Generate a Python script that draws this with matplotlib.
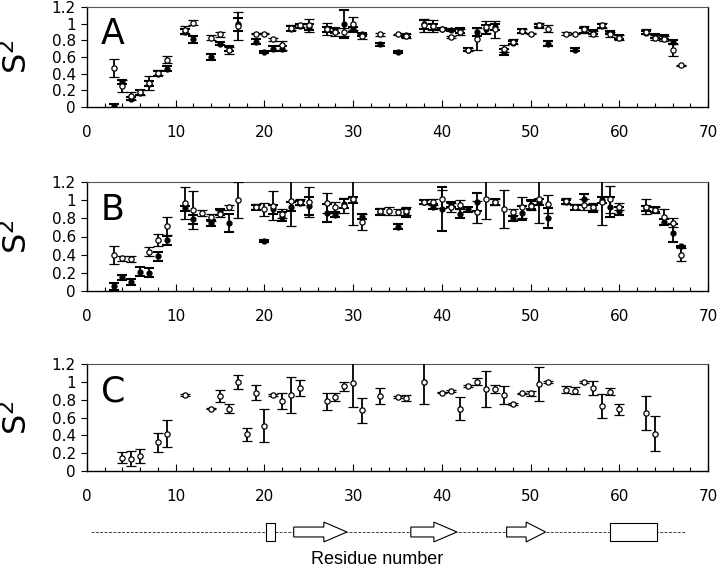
import matplotlib
matplotlib.use('Agg')
from matplotlib import pyplot as plt
from matplotlib.patches import Rectangle, Polygon
from matplotlib.ticker import MultipleLocator

# Panel A
res_a = [3, 4, 5, 6, 7, 8, 9, 11, 12, 14, 15, 16, 17, 19, 20, 21, 22, 23, 24, 25, 27, 28, 29, 30, 31, 33, 35, 36,
         38, 39, 40, 41, 42, 43, 44, 45, 46, 47, 48, 49, 50, 51, 52, 54, 55, 56, 57, 58, 59, 60, 63, 64, 65, 66, 67]
open_a = [0.47, 0.25, 0.13, 0.18, 0.29, 0.41, 0.57, 0.92, 1.01, 0.83, 0.87, 0.68, 0.97, 0.88, 0.88, 0.81, 0.74,
          0.95, 0.98, 0.98, 0.94, 0.90, 0.90, 1.00, 0.85, 0.87, 0.87, 0.85, 0.98, 0.97, 0.94, 0.84, 0.90, 0.69,
          0.82, 0.96, 0.93, 0.70, 0.78, 0.91, 0.88, 0.98, 0.94, 0.88, 0.88, 0.93, 0.88, 0.98, 0.87, 0.83, 0.90,
          0.83, 0.82, 0.68, 0.50]
err_open_a = [0.11, 0.07, 0.05, 0.03, 0.08, 0.03, 0.04, 0.05, 0.03, 0.03, 0.03, 0.04, 0.17, 0.01, 0.01, 0.02, 0.05,
              0.03, 0.02, 0.08, 0.07, 0.05, 0.05, 0.08, 0.03, 0.02, 0.01, 0.02, 0.08, 0.07, 0.01, 0.01, 0.04, 0.02,
              0.13, 0.07, 0.10, 0.04, 0.03, 0.02, 0.01, 0.03, 0.04, 0.02, 0.01, 0.04, 0.03, 0.03, 0.03, 0.03, 0.03,
              0.03, 0.03, 0.07, 0.01]
res_fa = [3, 4, 5, 6, 7, 8, 9, 11, 12, 14, 15, 16, 17, 19, 20, 21, 22, 23, 24, 25, 27, 28, 29, 30, 31, 33, 35, 36,
          38, 39, 40, 41, 42, 43, 44, 45, 46, 47, 48, 49, 51, 52, 55, 56, 57, 58, 59, 60, 63, 64, 65, 66]
fill_a = [0.01, 0.30, 0.10, 0.17, 0.28, 0.40, 0.46, 0.90, 0.81, 0.60, 0.76, 0.70, 0.99, 0.78, 0.66, 0.70, 0.70,
          0.94, 0.97, 0.96, 0.93, 0.92, 1.00, 0.93, 0.87, 0.75, 0.66, 0.86, 0.99, 0.96, 0.94, 0.92, 0.92, 0.69,
          0.90, 0.93, 0.96, 0.66, 0.77, 0.91, 0.98, 0.76, 0.69, 0.92, 0.90, 0.97, 0.89, 0.84, 0.89, 0.85, 0.84, 0.78]
err_fill_a = [0.03, 0.02, 0.02, 0.03, 0.03, 0.03, 0.03, 0.03, 0.04, 0.03, 0.02, 0.03, 0.08, 0.03, 0.01, 0.03, 0.03,
              0.03, 0.02, 0.03, 0.03, 0.03, 0.17, 0.03, 0.02, 0.02, 0.01, 0.02, 0.05, 0.03, 0.01, 0.01, 0.03, 0.02,
              0.05, 0.05, 0.03, 0.04, 0.02, 0.02, 0.02, 0.03, 0.02, 0.03, 0.02, 0.02, 0.02, 0.02, 0.02, 0.02, 0.02, 0.02]

# Panel B
res_b = [3, 4, 5, 7, 8, 9, 11, 12, 13, 14, 15, 16, 17, 19, 20, 21, 22, 23, 24, 25, 27, 28, 29, 30, 31, 33, 34, 35,
         36, 38, 39, 40, 41, 42, 44, 45, 46, 47, 48, 49, 50, 51, 52, 54, 55, 56, 57, 58, 59, 60, 63, 64, 65, 66, 67]
open_b = [0.40, 0.36, 0.35, 0.43, 0.56, 0.72, 0.97, 0.89, 0.86, 0.81, 0.85, 0.92, 1.00, 0.93, 0.90, 0.94, 0.85,
          0.99, 0.98, 0.98, 0.97, 0.92, 0.94, 1.01, 0.76, 0.88, 0.88, 0.87, 0.88, 0.98, 0.98, 1.01, 0.92, 0.95,
          0.87, 1.01, 0.98, 0.90, 0.87, 0.92, 0.94, 1.01, 0.96, 0.99, 0.93, 0.95, 0.93, 0.98, 1.01, 0.93, 0.93,
          0.89, 0.82, 0.75, 0.40]
err_open_b = [0.10, 0.03, 0.03, 0.05, 0.07, 0.10, 0.18, 0.21, 0.03, 0.04, 0.04, 0.03, 0.20, 0.03, 0.07, 0.16, 0.05,
              0.27, 0.03, 0.16, 0.11, 0.06, 0.08, 0.28, 0.09, 0.03, 0.04, 0.03, 0.04, 0.02, 0.03, 0.10, 0.05, 0.05,
              0.12, 0.22, 0.03, 0.21, 0.03, 0.12, 0.05, 0.26, 0.10, 0.03, 0.03, 0.06, 0.04, 0.25, 0.15, 0.04, 0.08,
              0.03, 0.08, 0.05, 0.07]
res_fb = [3, 4, 5, 6, 7, 8, 9, 11, 12, 14, 15, 16, 19, 20, 21, 22, 23, 24, 25, 27, 28, 29, 30, 31, 33, 35, 36,
          38, 39, 40, 41, 42, 43, 44, 46, 48, 49, 50, 51, 52, 54, 55, 56, 57, 58, 59, 60, 63, 64, 65, 66, 67]
fill_b = [0.05, 0.15, 0.10, 0.21, 0.20, 0.38, 0.56, 0.91, 0.79, 0.75, 0.87, 0.75, 0.92, 0.55, 0.90, 0.82, 0.93,
          0.97, 0.94, 0.86, 0.84, 0.96, 1.00, 0.82, 0.87, 0.71, 0.86, 0.98, 0.93, 0.90, 0.95, 0.85, 0.90, 0.98,
          0.98, 0.80, 0.86, 0.95, 0.98, 0.80, 0.98, 0.92, 1.01, 0.91, 1.00, 0.93, 0.88, 0.91, 0.90, 0.76, 0.64, 0.49]
err_fill_b = [0.04, 0.03, 0.03, 0.05, 0.05, 0.05, 0.05, 0.03, 0.05, 0.03, 0.03, 0.10, 0.03, 0.01, 0.05, 0.05, 0.05,
              0.02, 0.10, 0.10, 0.03, 0.05, 0.03, 0.03, 0.03, 0.03, 0.04, 0.02, 0.03, 0.24, 0.03, 0.05, 0.03, 0.10,
              0.03, 0.03, 0.08, 0.05, 0.03, 0.11, 0.02, 0.03, 0.06, 0.04, 0.03, 0.11, 0.04, 0.03, 0.03, 0.03, 0.10, 0.01]

# Panel C (open symbols only)
res_c = [4, 5, 6, 8, 9, 11, 14, 15, 16, 17, 18, 19, 20, 21, 22, 23, 24, 27, 28, 29, 30, 31, 33, 35, 36, 38,
         40, 41, 42, 43, 44, 45, 46, 47, 48, 49, 50, 51, 52, 54, 55, 56, 57, 58, 59, 60, 63, 64]
open_c = [0.15, 0.14, 0.17, 0.32, 0.42, 0.85, 0.70, 0.84, 0.70, 1.00, 0.41, 0.88, 0.51, 0.85, 0.78, 0.85, 0.93,
          0.78, 0.83, 0.95, 0.99, 0.68, 0.84, 0.83, 0.82, 1.00, 0.88, 0.90, 0.70, 0.95, 1.00, 0.92, 0.92, 0.85,
          0.75, 0.87, 0.87, 0.98, 1.00, 0.91, 0.90, 1.00, 0.93, 0.73, 0.89, 0.69, 0.65, 0.42]
err_open_c = [0.06, 0.08, 0.08, 0.11, 0.15, 0.01, 0.01, 0.07, 0.05, 0.08, 0.07, 0.08, 0.19, 0.01, 0.09, 0.20, 0.09,
              0.10, 0.04, 0.05, 0.27, 0.14, 0.09, 0.01, 0.03, 0.25, 0.01, 0.01, 0.13, 0.01, 0.04, 0.20, 0.05, 0.10,
              0.01, 0.01, 0.03, 0.19, 0.01, 0.04, 0.04, 0.01, 0.08, 0.13, 0.04, 0.06, 0.19, 0.20]

y_ticks = [0, 0.2, 0.4, 0.6, 0.8, 1.0, 1.2]
y_tick_labels = ['0', '0.2', '0.4', '0.6', '0.8', '1', '1.2']
x_ticks = [0, 10, 20, 30, 40, 50, 60, 70]

# secondary structure: (kind, first residue, last residue)
sec_struct = [('helix', 20.2, 21.2), ('strand', 23.3, 29.3), ('strand', 36.5, 41.7),
              ('strand', 47.3, 51.7), ('helix', 59.0, 64.3)]
coil_range = (0.4, 67.4)

plt.rcParams['font.family'] = ['DejaVu Sans']

fig = plt.figure(figsize=(7.2, 5.82), dpi=100)

LEFT = 87 / 720
WIDTH = 621 / 720


def setup_panel(ax, letter):
    ax.set_xlim(0, 70)
    ax.set_ylim(0, 1.2)
    ax.set_yticks(y_ticks)
    ax.set_yticklabels(y_tick_labels)
    ax.set_xticks(x_ticks)
    ax.xaxis.set_minor_locator(MultipleLocator(2))
    ax.tick_params(axis='x', which='major', direction='in', length=5, width=0.8, pad=13, labelsize=11)
    ax.tick_params(axis='x', which='minor', direction='in', length=3, width=0.8)
    ax.tick_params(axis='y', which='major', direction='out', length=4, width=0.8, pad=4, labelsize=11)
    for side in ['left', 'bottom', 'right']:
        ax.spines[side].set_linewidth(1.0)
    ax.spines['top'].set_linewidth(0.8)
    ax.spines['top'].set_color('#555555')
    ax.set_ylabel('S$^2$', fontsize=23)
    ax.yaxis.set_label_coords(-0.086, 0.5)
    ax.text(0.022, 0.90, letter, transform=ax.transAxes, fontsize=25, va='top', ha='left')


def draw_points(ax, x, y, err, filled):
    if filled:
        ax.errorbar(x, y, yerr=err, fmt='o', ms=3.5, mfc='black', mec='black', ecolor='black',
                    elinewidth=1.3, capsize=3.5, capthick=1.5, zorder=2)
    else:
        ax.errorbar(x, y, yerr=err, fmt='o', ms=3.8, mfc='white', mec='black', mew=0.9, ecolor='black',
                    elinewidth=1.3, capsize=3.5, capthick=1.5, zorder=3)


ax_a = fig.add_axes([LEFT, (582 - 107) / 582, WIDTH, 100 / 582])
draw_points(ax_a, res_fa, fill_a, err_fill_a, True)
draw_points(ax_a, res_a, open_a, err_open_a, False)
setup_panel(ax_a, 'A')

ax_b = fig.add_axes([LEFT, (582 - 291) / 582, WIDTH, 109 / 582])
draw_points(ax_b, res_fb, fill_b, err_fill_b, True)
draw_points(ax_b, res_b, open_b, err_open_b, False)
setup_panel(ax_b, 'B')

ax_c = fig.add_axes([LEFT, (582 - 471) / 582, WIDTH, 107 / 582])
draw_points(ax_c, res_c, open_c, err_open_c, False)
setup_panel(ax_c, 'C')

# secondary structure cartoon
ax_s = fig.add_axes([LEFT, (582 - 548) / 582, WIDTH, 32 / 582])
ax_s.set_xlim(0, 70)
ax_s.set_ylim(-1, 1)
ax_s.axis('off')
ax_s.plot(coil_range, [0, 0], color='#444444', lw=0.7, ls=(0, (3, 1.5)), zorder=1)
for kind, start, end in sec_struct:
    if kind == 'helix':
        ax_s.add_patch(Rectangle((start, -0.56), end - start, 1.12, facecolor='white',
                                 edgecolor='black', lw=0.8, zorder=2))
    else:
        head = min(2.6, (end - start) * 0.5)
        pts = [(start, -0.31), (end - head, -0.31), (end - head, -0.62), (end, 0),
               (end - head, 0.62), (end - head, 0.31), (start, 0.31)]
        ax_s.add_patch(Polygon(pts, closed=True, facecolor='white', edgecolor='black', lw=0.8, zorder=2))

fig.text(377 / 720, (582 - 559) / 582, 'Residue number', ha='center', va='center',
         fontsize=13, family=['Liberation Sans', 'DejaVu Sans'])

plt.savefig('out.png', dpi=100)
plt.close()
